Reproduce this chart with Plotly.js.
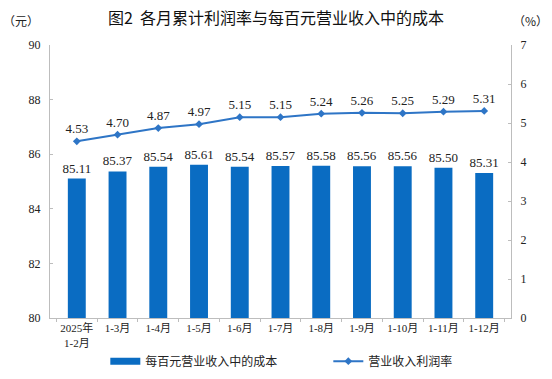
<!DOCTYPE html>
<html><head><meta charset="utf-8">
<script src="https://cdn.plot.ly/plotly-3.0.1.min.js"></script>
<style>body{margin:0;background:#fff}#c{width:552px;height:379px}</style>
</head><body><div id="c"></div>
<script>
const categories = ["2025年<br>1-2月","1-3月","1-4月","1-5月","1-6月","1-7月","1-8月","1-9月","1-10月","1-11月","1-12月"];
const costPer100 = [85.11,85.37,85.54,85.61,85.54,85.57,85.58,85.56,85.56,85.50,85.31];
const profitRate = [4.53,4.70,4.87,4.97,5.15,5.15,5.24,5.26,5.25,5.29,5.31];
const leftTicks = [80,82,84,86,88,90];
const rightTicks = [0,1,2,3,4,5,6,7];

const serif = "Times New Roman, Liberation Serif, Noto Sans CJK SC, serif";
const barColor = '#0a6cc2';
const data = [
  {type:'bar', name:'每百元营业收入中的成本', x:categories, y:costPer100, showlegend:false,
   marker:{color:barColor}, width:0.44,
   text:costPer100.map(v=>v.toFixed(2)), textposition:'outside', cliponaxis:false, constraintext:'none',
   textfont:{family:serif,size:13,color:'#222'}},
  // legend-only swatch for the bar series (wide flat rectangle as in the reference)
  {type:'scatter', mode:'lines', name:'每百元营业收入中的成本', x:[null], y:[null],
   line:{color:barColor,width:7}, hoverinfo:'skip'},
  {type:'scatter', mode:'lines+markers+text', name:'营业收入利润率', x:categories, y:profitRate, yaxis:'y2',
   line:{color:'#2e75c6',width:2}, marker:{symbol:'diamond',size:6,color:'#2e75c6'},
   text:profitRate.map(v=>v.toFixed(2)), textposition:'top center', cliponaxis:false,
   textfont:{family:serif,size:13,color:'#222'}}
];
const layout = {
  width:552,height:379,margin:{l:50,r:41,t:45,b:61,autoexpand:false},
  paper_bgcolor:'#fff',plot_bgcolor:'#fff',
  title:{text:'图2  各月累计利润率与每百元营业收入中的成本',x:0.5,xanchor:'center',y:0.952,yanchor:'middle',
    font:{family:'Noto Sans CJK SC',size:16,color:'#111'}},
  showlegend:true,
  legend:{orientation:'h',x:0.12,xanchor:'left',y:-0.158,yanchor:'middle',
    entrywidth:178,entrywidthmode:'pixels',
    font:{family:'Noto Sans CJK SC',size:12,color:'#222'},tracegroupgap:0},
  xaxis:{type:'category',showline:true,linecolor:'#bdbdbd',linewidth:1,mirror:false,automargin:false,
    ticks:'outside',ticklen:3,tickcolor:'#bdbdbd',tickson:'boundaries',tickangle:0,
    tickfont:{family:serif,size:11,color:'#222'},showgrid:false,zeroline:false},
  yaxis:{range:[80,90],tickvals:leftTicks,showline:true,linecolor:'#bdbdbd',linewidth:1,automargin:false,
    ticks:'inside',ticklen:3,tickcolor:'#bdbdbd',showgrid:false,zeroline:false,
    tickfont:{family:serif,size:12,color:'#222'},ticklabelstandoff:6},
  yaxis2:{range:[0,7],tickvals:rightTicks,overlaying:'y',side:'right',showline:true,linecolor:'#bdbdbd',linewidth:1,automargin:false,
    ticks:'inside',ticklen:3,tickcolor:'#bdbdbd',showgrid:false,zeroline:false,
    tickfont:{family:serif,size:12,color:'#222'},ticklabelstandoff:6},
  annotations:[
    {text:'（元）',xref:'paper',yref:'paper',x:-0.02,y:1.05,xanchor:'right',yanchor:'bottom',showarrow:false,
     font:{family:'Noto Sans CJK SC',size:12,color:'#222'}},
    {text:'（%）',xref:'paper',yref:'paper',x:1.0,y:1.05,xanchor:'left',yanchor:'bottom',showarrow:false,
     font:{family:'Noto Sans CJK SC',size:12,color:'#222'}}
  ]
};
Plotly.newPlot('c',data,layout,{displayModeBar:false,staticPlot:true});
</script></body></html>
